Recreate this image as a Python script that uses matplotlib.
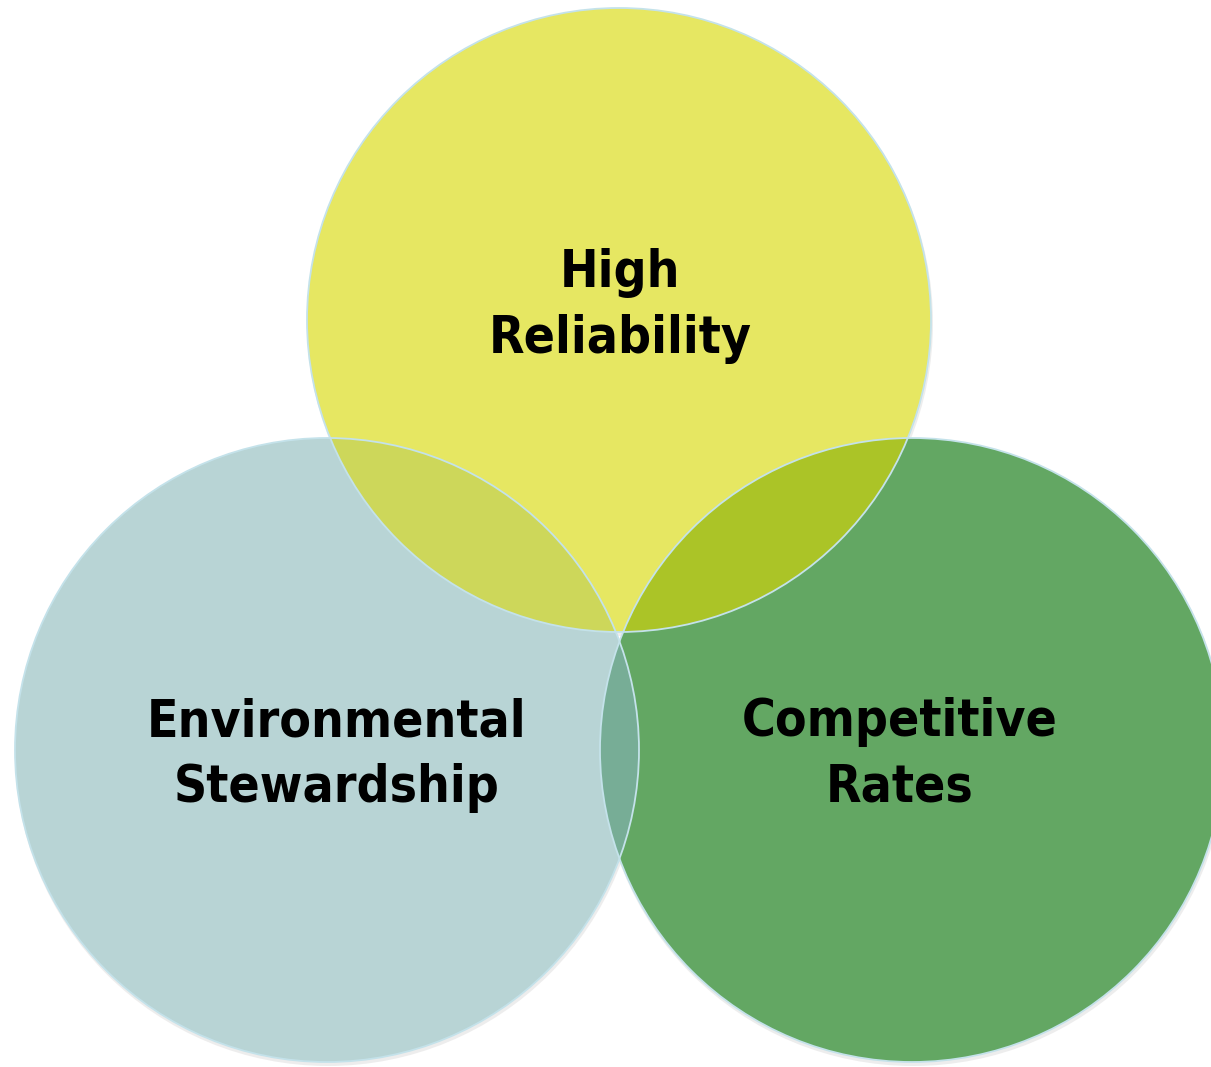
import matplotlib
matplotlib.use("Agg")
import matplotlib.pyplot as plt
from matplotlib.patches import Circle

# circle data (pixel space, y grows downward)
labels = ["High\nReliability", "Environmental\nStewardship", "Competitive\nRates"]
centers_x = [619, 327, 912]
centers_y = [320, 750, 750]
radius = 312
fills = ["#E6E762", "#B8D4D5", "#63A763"]

# overlap colours: (i, j) -> colour
pair_idx = [(0, 1), (0, 2), (1, 2)]
pair_colors = ["#CDD75A", "#ABC427", "#77AD96"]

fig = plt.figure(figsize=(12.11, 10.67), dpi=100)
ax = fig.add_axes([0, 0, 1, 1])
ax.set_xlim(0, 1211)
ax.set_ylim(1067, 0)
ax.set_aspect("equal")
ax.axis("off")

# soft shadows
for cx, cy in zip(centers_x, centers_y):
    ax.add_patch(Circle((cx + 1, cy + 3), radius + 1, facecolor="#dcdcdc",
                        edgecolor="none", alpha=0.5, zorder=1))

# base circles, top one last
for k in [1, 2, 0]:
    ax.add_patch(Circle((centers_x[k], centers_y[k]), radius,
                        facecolor=fills[k], edgecolor="none", zorder=2))

# overlaps
for (i, j), col in zip(pair_idx, pair_colors):
    clip = Circle((centers_x[j], centers_y[j]), radius, transform=ax.transData)
    p = Circle((centers_x[i], centers_y[i]), radius, facecolor=col,
               edgecolor="none", zorder=3)
    ax.add_patch(p)
    p.set_clip_path(clip)

# outlines
for k in [1, 2, 0]:
    ax.add_patch(Circle((centers_x[k], centers_y[k]), radius, facecolor="none",
                        edgecolor="#C4E2EA", linewidth=1.3, zorder=4))

text_x = [620, 337, 900]
text_y = [306, 755, 755]
for lab, tx, ty in zip(labels, text_x, text_y):
    ax.text(tx, ty, lab, ha="center", va="center", fontsize=37,
            family="DejaVu Sans", fontstretch="condensed",
            fontweight="bold", color="black", linespacing=1.4, zorder=5)

fig.savefig("out.png", dpi=100)
